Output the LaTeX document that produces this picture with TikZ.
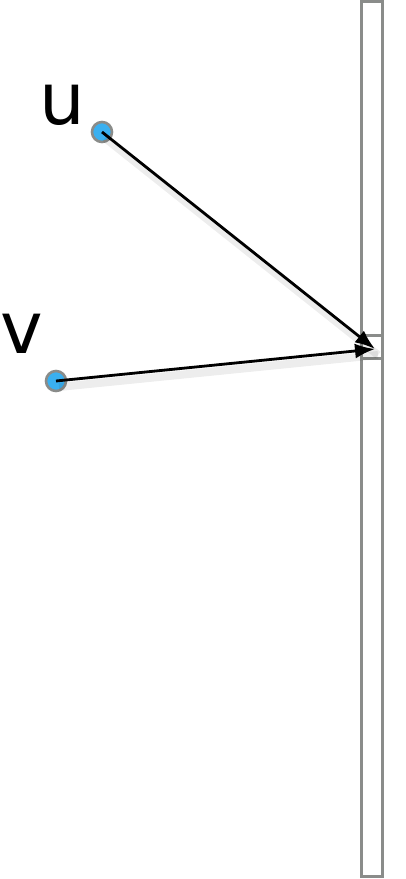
\documentclass[tikz,border=0pt]{standalone}
\usepackage{fontspec}
\setmainfont{DejaVu Sans}
\usetikzlibrary{arrows.meta}
\definecolor{dotblue}{RGB}{58,176,240}
\definecolor{rimgray}{RGB}{138,140,138}
\tikzset{
  dot/.style={circle, draw=rimgray, line width=2.6pt, fill=dotblue, minimum size=20pt, inner sep=0pt},
  lbl/.style={inner sep=0pt, font=\fontsize{72}{72}\selectfont},
  edge/.style={line width=2.8pt, -{Latex[length=20pt,width=15pt]}},
  shade/.style={line width=8pt, black, opacity=0.07},
  bar/.style={draw=rimgray, line width=3pt, fill=white, inner sep=0pt}
}
\begin{document}
\begin{tikzpicture}[x=1pt,y=-1pt]
\useasboundingbox (0,0) rectangle (406,879);
\node[bar, minimum width=21pt, minimum height=875pt] (wall) at (372,439) {};
\node[bar, minimum width=21pt, minimum height=23pt] (port) at (372,346.5) {};
\coordinate (tip) at (375,349);
\node[dot] (u) at (102,132) {};
\node[dot] (v) at (56,381) {};
\node[lbl] (ul) at (62,105) {u};
\node[lbl, anchor=west] (vl) at (0.5,334) {v};
\draw[shade] ([shift={(3,6)}]u.center) -- ([shift={(3,6)}]tip);
\draw[shade] ([shift={(3,6)}]v.center) -- ([shift={(3,6)}]tip);
\draw[edge] (u.center) -- (tip);
\draw[edge] (v.center) -- (tip);
\end{tikzpicture}
\end{document}
